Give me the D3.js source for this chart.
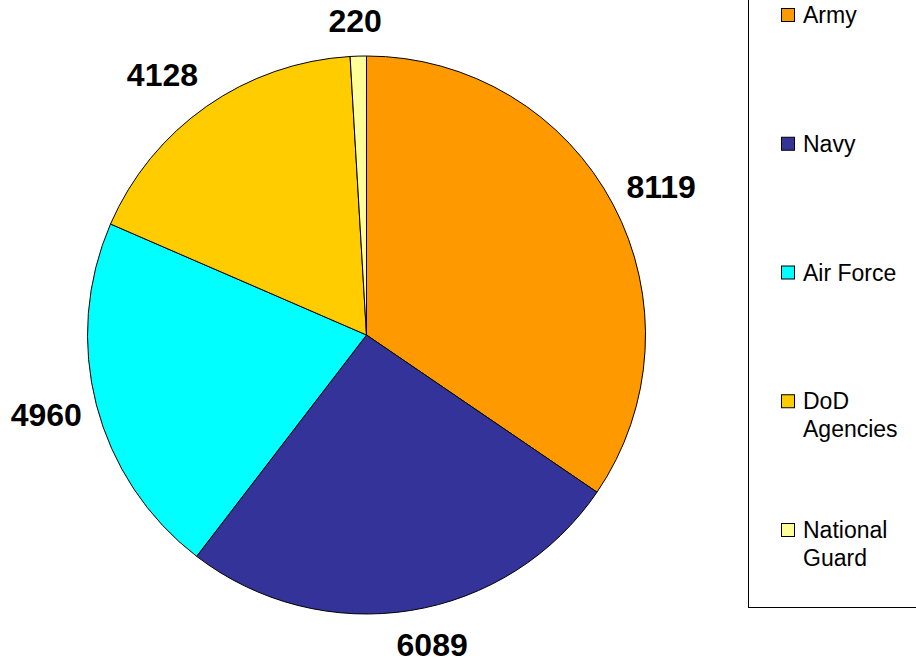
<!DOCTYPE html>
<html>
<head>
<meta charset="utf-8">
<script src="https://cdn.jsdelivr.net/npm/d3@7"></script>
<style>
  html, body { margin: 0; padding: 0; background: #fff; }
  svg { display: block; }
</style>
</head>
<body>
<svg id="chart" width="916" height="668"></svg>
<script>
// ---- data ----
const categories = ["Army", "Navy", "Air Force", "DoD Agencies", "National Guard"];
const values = [8119, 6089, 4960, 4128, 220];
const legendLines = [["Army"], ["Navy"], ["Air Force"], ["DoD", "Agencies"], ["National", "Guard"]];
const colors = ["#FF9900", "#333399", "#00FFFF", "#FFCC00", "#FFFF99"];

// ---- layout ----
const W = 916, H = 668;
const cx = 366.5, cy = 335, R = 279;
const svg = d3.select("#chart");

const data = categories.map((c, i) => ({ name: c, value: values[i], color: colors[i] }));

const pie = d3.pie().value(d => d.value).sort(null).startAngle(0).endAngle(2 * Math.PI);
const arcs = pie(data);
const arc = d3.arc().innerRadius(0).outerRadius(R);

const g = svg.append("g").attr("transform", `translate(${cx},${cy})`);

g.selectAll("path.slice")
  .data(arcs)
  .join("path")
  .attr("class", "slice")
  .attr("d", arc)
  .attr("fill", d => d.data.color)
  .attr("stroke", "#000")
  .attr("stroke-width", 1)
  .attr("stroke-linejoin", "round");

// ---- data labels (outside end) ----
const labelFont = 32;
const labelGap = 15;
const clamp = v => Math.max(-1, Math.min(1, v));
const labels = g.selectAll("text.lbl")
  .data(arcs)
  .join("text")
  .attr("class", "lbl")
  .attr("font-family", "Liberation Sans, Arial, sans-serif")
  .attr("font-weight", "bold")
  .attr("font-size", labelFont)
  .attr("fill", "#000")
  .attr("text-anchor", "middle")
  .text(d => d.data.value);

labels.each(function(d) {
  const bb = this.getBBox();
  const a = (d.startAngle + d.endAngle) / 2;
  const dx = Math.sin(a), dy = -Math.cos(a);
  const hw = bb.width / 2, hh = 20;
  const dist = R + labelGap;
  const x = dx * dist + hw * clamp(dx * 3.4);
  const y = dy * dist + hh * clamp(dy * 1.15);
  d3.select(this).attr("x", x).attr("y", y + labelFont * 0.35);
});

// ---- legend ----
const legend = svg.append("g");
legend.append("rect")
  .attr("x", 748.5).attr("y", -2)
  .attr("width", 200).attr("height", 609.5)
  .attr("fill", "#fff").attr("stroke", "#000").attr("stroke-width", 1);

const legY = d3.scaleLinear().domain([0, 4]).range([8.5, 523.5]);
const items = legend.selectAll("g.item")
  .data(data)
  .join("g")
  .attr("class", "item")
  .attr("transform", (d, i) => `translate(0,${legY(i)})`);

items.append("rect")
  .attr("x", 781.5).attr("y", 0)
  .attr("width", 13).attr("height", 13)
  .attr("fill", d => d.color)
  .attr("stroke", "#000").attr("stroke-width", 1);

items.append("text")
  .attr("font-family", "Liberation Sans, Arial, sans-serif")
  .attr("font-size", 23)
  .attr("fill", "#000")
  .selectAll("tspan")
  .data((d, i) => legendLines[i])
  .join("tspan")
  .attr("x", 803)
  .attr("y", (t, j) => 14.5 + j * 27.5)
  .text(t => t);
</script>
</body>
</html>
